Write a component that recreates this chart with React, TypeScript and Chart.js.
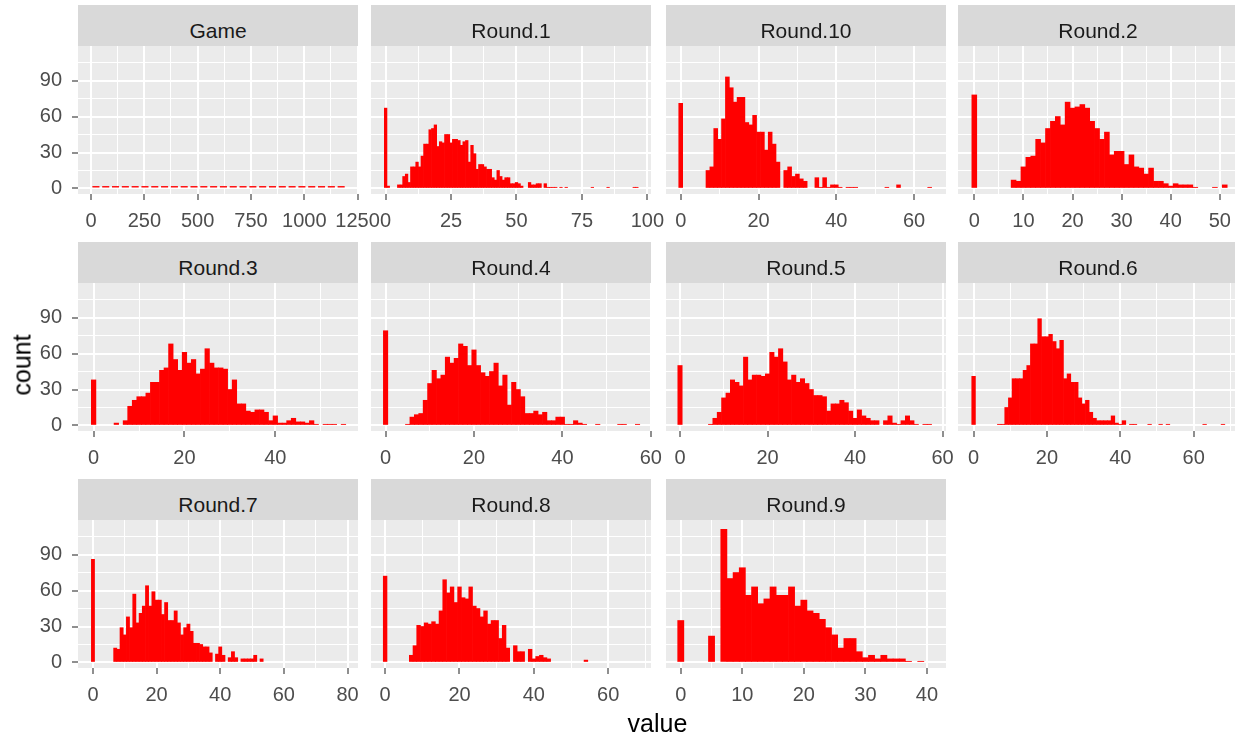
import React, { useEffect, useRef } from 'react';
import { Chart, registerables } from 'chart.js';

Chart.register(...registerables);

const FONT = '"Liberation Sans", Arial, sans-serif';

// ---- data ----
const panelNames = ['Game', 'Round.1', 'Round.10', 'Round.2', 'Round.3', 'Round.4', 'Round.5', 'Round.6', 'Round.7', 'Round.8', 'Round.9'];

const gameCounts = [2, 2, 2, 2, 2, 2, 2, 2, 2, 2, 2, 2, 2, 2, 2, 2, 2, 2, 2, 2, 2, 2, 2, 2, 2, 2];
const round1Counts = [67, 2, 0, 0, 0, 3, 3, 10, 12, 5, 18, 18, 22, 18, 27, 37, 37, 49, 50, 53, 35, 39, 38, 45, 45, 38, 41, 41, 40, 36, 39, 40, 22, 36, 29, 16, 20, 20, 18, 16, 16, 9, 7, 15, 10, 7, 9, 9, 4, 4, 5, 4, 2, 0, 0, 5, 3, 3, 4, 4, 0, 4, 1, 1, 1, 1, 0, 1, 0, 1, 0, 0, 0, 0, 0, 0, 0, 0, 0, 1, 0, 0, 0, 0, 0, 1, 0, 0, 0, 0, 0, 0, 0, 0, 0, 1, 1];
const round10Counts = [71, 0, 0, 0, 0, 0, 0, 15, 18, 50, 41, 58, 93, 84, 72, 76, 76, 55, 53, 61, 47, 47, 32, 47, 37, 22, 0, 15, 18, 10, 12, 8, 6, 0, 0, 9, 1, 9, 1, 3, 3, 1, 0, 1, 1, 1, 0, 0, 0, 0, 0, 0, 0, 1, 0, 0, 3, 0, 0, 0, 0, 0, 0, 0, 1];
const round2Counts = [78, 0, 0, 0, 0, 0, 0, 0, 7, 6, 18, 26, 27, 41, 38, 50, 56, 60, 53, 72, 67, 68, 70, 67, 56, 50, 41, 47, 28, 31, 31, 20, 28, 18, 17, 12, 17, 6, 6, 4, 2, 4, 3, 3, 3, 1, 0, 0, 0, 1, 0, 3];
const round3Counts = [38, 0, 0, 0, 0, 2, 0, 4, 16, 21, 24, 24, 27, 36, 36, 46, 48, 68, 55, 46, 61, 52, 55, 43, 47, 64, 52, 48, 48, 47, 30, 38, 18, 18, 12, 11, 13, 13, 11, 4, 8, 2, 2, 4, 6, 3, 3, 2, 4, 1, 0, 1, 1, 1, 0, 1];
const round4Counts = [79, 0, 0, 0, 0, 1, 7, 9, 10, 21, 35, 46, 39, 42, 57, 52, 56, 68, 66, 50, 63, 50, 44, 41, 45, 52, 33, 42, 17, 36, 30, 24, 10, 10, 12, 9, 11, 4, 4, 7, 7, 1, 1, 4, 2, 1, 0, 0, 1, 0, 0, 0, 0, 1, 1, 0, 0, 1];
const round5Counts = [50, 0, 0, 0, 0, 0, 0, 1, 6, 11, 23, 27, 38, 36, 33, 57, 38, 42, 42, 41, 43, 61, 57, 64, 53, 38, 42, 36, 39, 35, 30, 25, 25, 24, 12, 18, 18, 21, 19, 12, 6, 13, 8, 6, 4, 4, 0, 4, 8, 2, 1, 4, 8, 4, 1, 0, 1, 1];
const round6Counts = [41, 0, 0, 0, 0, 0, 0, 1, 1, 15, 23, 39, 39, 39, 46, 50, 68, 68, 89, 74, 74, 76, 70, 64, 71, 39, 43, 36, 36, 23, 18, 21, 11, 6, 4, 4, 4, 4, 8, 2, 1, 4, 0, 1, 1, 0, 0, 0, 1, 0, 0, 1, 0, 1, 0, 0, 0, 0, 0, 0, 0, 0, 0, 1, 0, 0, 0, 0, 1];
const round7Counts = [86, 0, 0, 0, 0, 0, 0, 12, 11, 29, 23, 38, 29, 57, 33, 41, 47, 64, 47, 59, 52, 52, 40, 50, 35, 35, 43, 33, 23, 29, 32, 26, 16, 16, 15, 13, 13, 8, 0, 7, 13, 6, 0, 4, 9, 4, 0, 3, 3, 3, 3, 6, 0, 3];
const round8Counts = [72, 0, 0, 0, 0, 0, 0, 6, 14, 31, 30, 33, 32, 34, 32, 43, 69, 58, 63, 50, 63, 54, 53, 63, 47, 45, 38, 43, 32, 35, 35, 20, 31, 12, 0, 14, 9, 9, 0, 11, 3, 5, 6, 4, 3, 0, 0, 0, 0, 0, 0, 0, 0, 0, 2];
const round9Counts = [35, 0, 0, 0, 0, 22, 0, 111, 70, 75, 79, 56, 63, 49, 53, 63, 56, 56, 63, 47, 52, 43, 41, 36, 29, 23, 12, 20, 20, 9, 4, 6, 3, 6, 3, 3, 3, 1, 0, 1];

const panelCounts = [gameCounts, round1Counts, round10Counts, round2Counts, round3Counts, round4Counts, round5Counts, round6Counts, round7Counts, round8Counts, round9Counts];
// histogram bins: first bin centre and bin width per panel
const binStarts = [23, 0, 0, 0, 0, 0, 0, 0, 0, 0, 0];
const binWidths = [46, 1, 1, 1, 1, 1, 1, 1, 1, 1, 1];
// x axis limits and major tick step per panel
const xMins = [-61, -5.6, -3.78, -3.32, -3.44, -3.3, -3.2, -4.25, -4.7, -3.8, -2.4];
const xMaxs = [1252, 101.4, 68.2, 53.7, 58.2, 60.05, 60.8, 72.1, 83.3, 71.5, 43.1];
const xMajorSteps = [250, 25, 20, 10, 20, 20, 20, 20, 20, 20, 10];
// shared y axis
const yMin = -4.6;
const yMax = 118.8;
const yMajorStep = 30;

// ---- layout ----
const panelLefts = [78, 371, 666, 958];
const PANEL_W = 280;
const PANEL_H = 148;
const STRIP_H = 41;
const ROW_STEP = 237;
const FIRST_STRIP_TOP = 5;
const PAD_TOP = 30;
const PAD_RIGHT = 40;
const XAXIS_H = 50;
const TICK_SIZE = 20;
const STRIP_SIZE = 21;
const TITLE_SIZE = 25;

const isMajor = (v: number, step: number) => Math.abs(v / step - Math.round(v / step)) < 1e-6;

const bgPlugin = {
  id: 'panelBg',
  beforeDraw(chart: any) {
    const { ctx, chartArea: a } = chart;
    ctx.save();
    ctx.fillStyle = '#EBEBEB';
    ctx.fillRect(a.left, a.top, a.right - a.left, a.bottom - a.top);
    ctx.restore();
  },
};

function Panel({ index }: { index: number }) {
  const ref = useRef<HTMLCanvasElement | null>(null);
  const col = index % 4;
  const row = Math.floor(index / 4);
  const lpad = col === 0 ? 78 : 2;
  const panelLeft = panelLefts[col];
  const stripTop = FIRST_STRIP_TOP + ROW_STEP * row;
  const panelTop = stripTop + STRIP_H;
  const canvasLeft = panelLeft - lpad;
  const canvasTop = panelTop - PAD_TOP;
  const cw = lpad + PANEL_W + PAD_RIGHT;
  const ch = PAD_TOP + PANEL_H + XAXIS_H;

  useEffect(() => {
    if (!ref.current) return;
    const counts = panelCounts[index];
    const start = binStarts[index];
    const bw = binWidths[index];
    const major = xMajorSteps[index];
    const chart = new Chart(ref.current, {
      type: 'bar',
      data: {
        datasets: [
          {
            data: counts.map((c, k) => ({ x: start + k * bw, y: c === 0 ? null : c })),
            backgroundColor: '#FF0000',
            borderWidth: 0,
            barPercentage: index === 0 ? 0.72 : 1,
            categoryPercentage: 1,
          } as any,
        ],
      },
      options: {
        responsive: false,
        maintainAspectRatio: false,
        animation: false,
        devicePixelRatio: 1,
        events: [],
        layout: { padding: { top: PAD_TOP, right: PAD_RIGHT, left: 0, bottom: 0 } },
        plugins: { legend: { display: false }, tooltip: { enabled: false }, title: { display: false } },
        scales: {
          x: {
            type: 'linear',
            min: xMins[index],
            max: xMaxs[index],
            offset: false,
            bounds: 'ticks',
            border: { display: false },
            grid: {
              offset: false,
              color: '#FFFFFF',
              lineWidth: (ctx: any) => (ctx.tick && isMajor(ctx.tick.value, major) ? 2 : 1),
              drawTicks: true,
              tickLength: 6,
              tickWidth: 1.1,
              tickColor: (ctx: any) => (ctx.tick && isMajor(ctx.tick.value, major) ? '#333333' : 'rgba(0,0,0,0)'),
            },
            ticks: {
              stepSize: major / 2,
              includeBounds: false,
              autoSkip: false,
              maxRotation: 0,
              minRotation: 0,
              padding: 9,
              color: '#4D4D4D',
              font: { family: FONT, size: TICK_SIZE },
              callback: (v: any) => (isMajor(Number(v), major) ? String(v) : ''),
            },
            afterFit: (s: any) => {
              s.height = XAXIS_H;
            },
          } as any,
          y: {
            type: 'linear',
            min: yMin,
            max: yMax,
            bounds: 'ticks',
            border: { display: false },
            grid: {
              color: '#FFFFFF',
              lineWidth: (ctx: any) => (ctx.tick && isMajor(ctx.tick.value, yMajorStep) ? 2 : 1),
              drawTicks: col === 0,
              tickLength: 6,
              tickWidth: 1.1,
              tickColor: (ctx: any) => (ctx.tick && isMajor(ctx.tick.value, yMajorStep) ? '#333333' : 'rgba(0,0,0,0)'),
            },
            ticks: {
              display: col === 0,
              stepSize: yMajorStep / 2,
              includeBounds: false,
              autoSkip: false,
              padding: 10,
              color: '#4D4D4D',
              font: { family: FONT, size: TICK_SIZE },
              callback: (v: any) => (isMajor(Number(v), yMajorStep) ? String(v) : ''),
            },
            afterFit: (s: any) => {
              s.width = lpad;
            },
          } as any,
        },
      },
      plugins: [bgPlugin],
    });
    return () => chart.destroy();
  }, [index]);

  return (
    <>
      <canvas
        ref={ref}
        width={cw}
        height={ch}
        style={{ position: 'absolute', left: canvasLeft, top: canvasTop, width: cw, height: ch }}
      />
      <div
        style={{
          position: 'absolute',
          left: panelLeft,
          top: stripTop,
          width: PANEL_W,
          height: STRIP_H,
          background: '#D9D9D9',
          zIndex: 2,
        }}
      >
        <span
          style={{
            position: 'absolute',
            left: 0,
            right: 0,
            top: 15,
            textAlign: 'center',
            fontFamily: FONT,
            fontSize: STRIP_SIZE,
            lineHeight: `${STRIP_SIZE}px`,
            color: '#1A1A1A',
            whiteSpace: 'nowrap',
          }}
        >
          {panelNames[index]}
        </span>
      </div>
    </>
  );
}

export default function App() {
  return (
    <div
      style={{
        position: 'absolute',
        left: 0,
        top: 0,
        width: 1235,
        height: 738,
        overflow: 'hidden',
        background: '#FFFFFF',
      }}
    >
      {panelNames.map((_, i) => (
        <Panel key={i} index={i} />
      ))}
      <div
        style={{
          position: 'absolute',
          left: 22,
          top: 365,
          transform: 'translate(-50%, -50%) rotate(-90deg)',
          fontFamily: FONT,
          fontSize: TITLE_SIZE,
          lineHeight: `${TITLE_SIZE}px`,
          color: '#000000',
          whiteSpace: 'nowrap',
        }}
      >
        count
      </div>
      <div
        style={{
          position: 'absolute',
          left: 0,
          width: 1315,
          top: 711,
          textAlign: 'center',
          fontFamily: FONT,
          fontSize: TITLE_SIZE,
          lineHeight: `${TITLE_SIZE}px`,
          color: '#000000',
          whiteSpace: 'nowrap',
        }}
      >
        value
      </div>
    </div>
  );
}
